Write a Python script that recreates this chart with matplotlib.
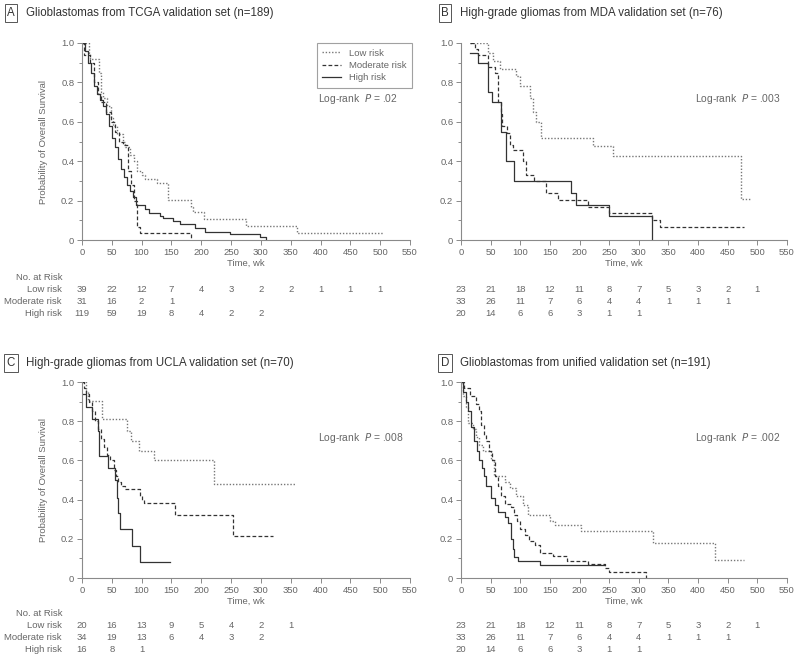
import numpy as np
import matplotlib
matplotlib.use("Agg")
import matplotlib.pyplot as plt
from matplotlib.ticker import MultipleLocator, FuncFormatter
from matplotlib.transforms import blended_transform_factory

plt.rcParams['font.family'] = ['Liberation Sans', 'DejaVu Sans']

# ---- survival curves (time in weeks, survival after each drop) ----
a_low_t = [0, 12, 14, 28, 32, 36, 42, 48, 52, 58, 68, 72, 80, 88, 92, 100, 105, 125, 145, 182, 186, 204, 275, 360, 505]
a_low_s = [1.0, 0.95, 0.92, 0.85, 0.75, 0.72, 0.68, 0.62, 0.58, 0.54, 0.50, 0.47, 0.43, 0.40, 0.35, 0.33, 0.31, 0.29, 0.205, 0.17, 0.14, 0.105, 0.07, 0.035, 0.035]
a_mod_t = [0, 4, 14, 20, 26, 32, 40, 48, 55, 62, 68, 77, 82, 87, 92, 98, 183]
a_mod_s = [1.0, 0.94, 0.90, 0.80, 0.74, 0.70, 0.65, 0.60, 0.55, 0.50, 0.48, 0.35, 0.28, 0.20, 0.065, 0.033, 0.0]
a_high_t = [0, 5, 10, 15, 20, 25, 30, 35, 40, 45, 50, 55, 60, 65, 70, 75, 80, 85, 91, 105, 113, 130, 136, 153, 164, 189, 206, 248, 298, 308]
a_high_s = [1.0, 0.96, 0.90, 0.85, 0.78, 0.74, 0.71, 0.68, 0.64, 0.58, 0.52, 0.47, 0.41, 0.36, 0.32, 0.28, 0.25, 0.22, 0.18, 0.155, 0.135, 0.12, 0.11, 0.095, 0.08, 0.06, 0.04, 0.03, 0.015, 0.0]

b_low_t = [15, 45, 54, 65, 93, 99, 116, 121, 127, 135, 222, 256, 472, 488]
b_low_s = [1.0, 0.95, 0.91, 0.87, 0.83, 0.78, 0.72, 0.65, 0.60, 0.52, 0.475, 0.425, 0.21, 0.21]
b_mod_t = [15, 24, 29, 46, 57, 62, 67, 70, 78, 82, 88, 104, 110, 124, 144, 163, 214, 250, 323, 335, 478]
b_mod_s = [1.0, 0.97, 0.94, 0.88, 0.85, 0.70, 0.64, 0.58, 0.545, 0.48, 0.455, 0.40, 0.33, 0.30, 0.24, 0.205, 0.17, 0.135, 0.10, 0.065, 0.065]
b_high_t = [15, 29, 45, 52, 67, 68, 76, 90, 186, 194, 250, 323]
b_high_s = [0.95, 0.90, 0.75, 0.70, 0.65, 0.55, 0.40, 0.30, 0.24, 0.18, 0.12, 0.0]

c_low_t = [0, 7, 10, 33, 75, 82, 96, 121, 222, 358]
c_low_s = [1.0, 0.95, 0.905, 0.81, 0.75, 0.70, 0.65, 0.60, 0.48, 0.48]
c_mod_t = [0, 3, 7, 12, 17, 22, 27, 32, 37, 42, 47, 53, 57, 60, 66, 72, 97, 100, 104, 156, 253, 320]
c_mod_s = [1.0, 0.97, 0.94, 0.90, 0.85, 0.80, 0.76, 0.71, 0.67, 0.63, 0.60, 0.55, 0.52, 0.49, 0.47, 0.455, 0.42, 0.40, 0.385, 0.32, 0.215, 0.215]
c_high_t = [0, 7, 16, 27, 28, 44, 56, 59, 61, 63, 84, 98, 147]
c_high_s = [0.94, 0.875, 0.81, 0.75, 0.625, 0.56, 0.50, 0.41, 0.33, 0.25, 0.165, 0.08, 0.08]

d_low_t = [0, 4, 8, 12, 20, 25, 30, 37, 51, 56, 74, 82, 93, 104, 113, 150, 158, 203, 324, 428, 477]
d_low_s = [1.0, 0.93, 0.87, 0.79, 0.76, 0.72, 0.68, 0.65, 0.60, 0.52, 0.49, 0.46, 0.42, 0.37, 0.32, 0.29, 0.27, 0.24, 0.18, 0.09, 0.09]
d_mod_t = [0, 5, 15, 25, 30, 33, 38, 42, 48, 52, 58, 62, 68, 75, 85, 90, 95, 100, 108, 115, 125, 133, 155, 178, 214, 243, 250, 312]
d_mod_s = [1.0, 0.97, 0.93, 0.89, 0.85, 0.78, 0.73, 0.70, 0.65, 0.60, 0.52, 0.47, 0.42, 0.38, 0.36, 0.32, 0.29, 0.25, 0.22, 0.19, 0.17, 0.13, 0.11, 0.085, 0.07, 0.05, 0.03, 0.0]
d_high_t = [0, 3, 8, 12, 17, 22, 27, 30, 35, 38, 42, 51, 57, 62, 74, 79, 84, 87, 90, 96, 133, 242]
d_high_s = [1.0, 0.95, 0.90, 0.85, 0.77, 0.70, 0.65, 0.60, 0.56, 0.52, 0.47, 0.41, 0.37, 0.335, 0.31, 0.28, 0.20, 0.15, 0.105, 0.085, 0.067, 0.067]

# ---- numbers at risk (every 50 wk from 0) ----
a_risk_low = [39, 22, 12, 7, 4, 3, 2, 2, 1, 1, 1]
a_risk_mod = [31, 16, 2, 1]
a_risk_high = [119, 59, 19, 8, 4, 2, 2]
b_risk_low = [23, 21, 18, 12, 11, 8, 7, 5, 3, 2, 1]
b_risk_mod = [33, 26, 11, 7, 6, 4, 4, 1, 1, 1]
b_risk_high = [20, 14, 6, 6, 3, 1, 1]
c_risk_low = [20, 16, 13, 9, 5, 4, 2, 1]
c_risk_mod = [34, 19, 13, 6, 4, 3, 2]
c_risk_high = [16, 8, 1]
d_risk_low = [23, 21, 18, 12, 11, 8, 7, 5, 3, 2, 1]
d_risk_mod = [33, 26, 11, 7, 6, 4, 4, 1, 1, 1]
d_risk_high = [20, 14, 6, 6, 3, 1, 1]

letters = ['A', 'B', 'C', 'D']
titles = ['Glioblastomas from TCGA validation set (n=189)',
          'High-grade gliomas from MDA validation set (n=76)',
          'High-grade gliomas from UCLA validation set (n=70)',
          'Glioblastomas from unified validation set (n=191)']
pvals = ['.02', '.003', '.008', '.002']
group_names = ['Low risk', 'Moderate risk', 'High risk']

W, H = 800, 664
GRAY = '#666666'
AX = '#8a8a8a'


def fy(px):
    return 1 - px / H


fig = plt.figure(figsize=(W / 100, H / 100), dpi=100)

# axes boxes in pixels: left, right, top, bottom
boxes = [(82, 410, 43, 240), (461, 787, 43, 240), (82, 410, 382, 578), (461, 787, 382, 578)]
curves = [
    [(a_low_t, a_low_s), (a_mod_t, a_mod_s), (a_high_t, a_high_s)],
    [(b_low_t, b_low_s), (b_mod_t, b_mod_s), (b_high_t, b_high_s)],
    [(c_low_t, c_low_s), (c_mod_t, c_mod_s), (c_high_t, c_high_s)],
    [(d_low_t, d_low_s), (d_mod_t, d_mod_s), (d_high_t, d_high_s)],
]
risks = [
    [a_risk_low, a_risk_mod, a_risk_high],
    [b_risk_low, b_risk_mod, b_risk_high],
    [c_risk_low, c_risk_mod, c_risk_high],
    [d_risk_low, d_risk_mod, d_risk_high],
]
styles = [dict(color='#777777', ls=(0, (1, 1.3)), lw=1.0),
          dict(color='#333333', ls=(0, (3, 1.8)), lw=0.9),
          dict(color='#333333', ls='-', lw=0.9)]

for i in range(4):
    l, r, t, b = boxes[i]
    ax = fig.add_axes([l / W, fy(b), (r - l) / W, (b - t) / H])
    for (tt, ss), st, name in zip(curves[i], styles, group_names):
        ax.step(tt, ss, where='post', label=name, **st)

    ax.set_xlim(0, 550)
    ax.set_ylim(0, 1.0)
    ax.xaxis.set_major_locator(MultipleLocator(50))
    ax.yaxis.set_major_locator(MultipleLocator(0.2))
    ax.yaxis.set_minor_locator(MultipleLocator(0.1))
    ax.yaxis.set_major_formatter(FuncFormatter(lambda v, p: '0' if abs(v) < 1e-9 else '%.1f' % v))
    for s in ['top', 'right']:
        ax.spines[s].set_visible(False)
    for s in ['left', 'bottom']:
        ax.spines[s].set_color(AX)
        ax.spines[s].set_linewidth(0.8)
    ax.tick_params(which='both', colors=AX, labelcolor=GRAY, labelsize=6.8, width=0.7)
    ax.tick_params(which='major', length=3.5, pad=2)
    ax.tick_params(which='minor', length=2)
    ax.patch.set_alpha(0)

    ax.set_xlabel('Time, wk', fontsize=6.8, color=GRAY)
    ax.xaxis.set_label_coords(0.5, -0.095)
    if i % 2 == 0:
        ax.set_ylabel('Probability of Overall Survival', fontsize=6.8, color=GRAY)
        ax.yaxis.set_label_coords(-0.104, 0.5)

    ax.text(395, 0.715, 'Log-rank  $\\it{P}$ = ' + pvals[i], fontsize=7.4, color=GRAY,
            ha='left', va='center')

    if i == 0:
        leg = ax.legend(loc='upper left', bbox_to_anchor=(0.715, 1.0), fontsize=6.8,
                        frameon=True, fancybox=False, borderpad=0.6, labelspacing=0.35,
                        handlelength=2.0, handletextpad=0.8, borderaxespad=0)
        leg.get_frame().set_edgecolor(AX)
        leg.get_frame().set_linewidth(0.8)
        for txt in leg.get_texts():
            txt.set_color(GRAY)

    # title with boxed panel letter
    ty = 13 if i < 2 else 363
    lx = 11 if i % 2 == 0 else 445
    tx = 26 if i % 2 == 0 else 460
    fig.text(lx / W, fy(ty), letters[i], fontsize=8.3, color='#333333', ha='center', va='center',
             bbox=dict(boxstyle='square,pad=0.22', fc='none', ec='#555555', lw=0.7))
    fig.text(tx / W, fy(ty), titles[i], fontsize=8.3, color='#333333', ha='left', va='center')

    # number at risk table
    trans = blended_transform_factory(ax.transData, fig.transFigure)
    rows = [289, 302, 314] if i < 2 else [625, 637, 649]
    head = 277 if i < 2 else 613
    if i % 2 == 0:
        fig.text(62 / W, fy(head), 'No. at Risk', fontsize=6.8, color=GRAY, ha='right', va='center')
    for row, vals, name in zip(rows, risks[i], group_names):
        if i % 2 == 0:
            fig.text(62 / W, fy(row), name, fontsize=6.8, color=GRAY, ha='right', va='center')
        for k, v in enumerate(vals):
            ax.text(k * 50, fy(row), str(v), transform=trans, fontsize=6.8, color=GRAY,
                    ha='center', va='center', clip_on=False)

fig.savefig('out.png', dpi=100)
